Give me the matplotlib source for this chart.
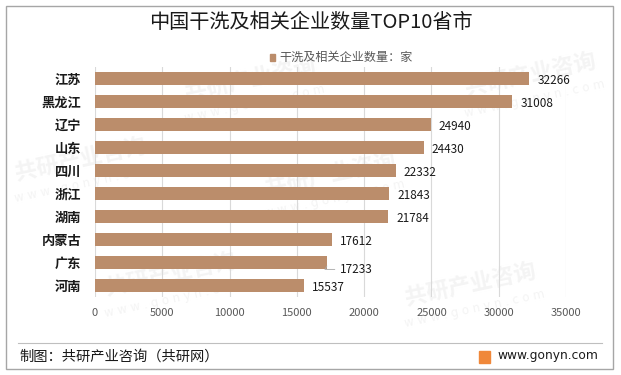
import numpy as np
import matplotlib.pyplot as plt
from matplotlib.patches import Rectangle

plt.rcParams['font.family'] = ['Noto Sans CJK SC', 'DejaVu Sans']

# data
provinces = ['江苏', '黑龙江', '辽宁', '山东', '四川', '浙江', '湖南', '内蒙古', '广东', '河南']
counts = [32266, 31008, 24940, 24430, 22332, 21843, 21784, 17612, 17233, 15537]
xticks = [0, 5000, 10000, 15000, 20000, 25000, 30000, 35000]

title = '中国干洗及相关企业数量TOP10省市'
legend_label = '干洗及相关企业数量：家'
source = '制图：共研产业咨询（共研网）'
site = 'www.gonyn.com'
wm_text = '共研产业咨询'
wm_site = 'w w w . g o n y n . c o m'

bar_color = '#BB8D6B'
W, H = 621, 375

fig = plt.figure(figsize=(W / 100, H / 100), dpi=100)

# faint watermarks, behind the axes
for wx, wy in [(250, 80), (330, 175), (170, 275), (470, 285), (80, 160), (530, 75)]:
    fig.text(wx / W, 1 - wy / H, wm_text, fontsize=16, fontweight='bold', color='#f4f4f4',
             rotation=12, ha='center', va='center', zorder=0.2)
    fig.text((wx + 5) / W, 1 - (wy + 24) / H, wm_site, fontsize=8.5, color='#f4f4f4',
             rotation=12, ha='center', va='center', zorder=0.2, family='DejaVu Sans')

ax = fig.add_axes([95 / W, 1 - 297 / H, (566 - 95) / W, (297 - 67) / H])
ax.set_zorder(1)
ax.patch.set_alpha(0)

y = np.arange(len(provinces))
ax.barh(y, counts, height=0.58, color=bar_color, zorder=3)
ax.set_ylim(len(provinces) - 0.5, -0.5)
ax.set_xlim(0, 35000)
ax.set_xticks(xticks)
ax.set_xticklabels([str(t) for t in xticks], fontsize=8, color='#595959')
ax.tick_params(axis='both', length=0)
ax.set_yticks(y)
ax.set_yticklabels(provinces, fontsize=9.5, fontweight='bold', color='#1a1a1a')
ax.tick_params(axis='x', pad=8)
ax.tick_params(axis='y', pad=10)
ax.grid(axis='x', color='#d9d9d9', linewidth=0.8, zorder=0)
for s in ax.spines.values():
    s.set_visible(False)

# value labels
for i, v in enumerate(counts):
    if provinces[i] == '广东':
        ax.annotate(str(v), xy=(v + 100, i + 0.05), xytext=(v + 1000, i + 0.3),
                    fontsize=8.5, color='#1a1a1a', va='center', ha='left',
                    arrowprops=dict(arrowstyle='-', color='#a6a6a6', lw=0.6,
                                    connectionstyle='angle,angleA=0,angleB=60,rad=0'))
    else:
        ax.text(v + 600, i + 0.08, str(v), fontsize=8.5, color='#1a1a1a', va='center', ha='left')

# title and legend
fig.text(311 / W, 1 - 23 / H, title, fontsize=14.5, ha='center', va='center', color='#1a1a1a')
fig.patches.append(Rectangle((270 / W, 1 - 61 / H), 5 / W, 7 / H, transform=fig.transFigure,
                             color=bar_color))
fig.text(279 / W, 1 - 57 / H, legend_label, fontsize=8.7, ha='left', va='center', color='#595959')

# outer border and footer
fig.patches.append(Rectangle((6 / W, 6 / H), 607 / W, 363 / H, transform=fig.transFigure,
                             fill=False, edgecolor='#a6a6a6', linewidth=1))
fig.add_artist(plt.Line2D([18 / W, 602 / W], [1 - 343 / H, 1 - 343 / H],
                          transform=fig.transFigure, color='#bfbfbf', linewidth=0.8))
fig.text(19 / W, 1 - 357 / H, source, fontsize=10.3, ha='left', va='center', color='#1a1a1a')
fig.patches.append(Rectangle((479 / W, 1 - 363 / H), 11 / W, 12 / H, transform=fig.transFigure,
                             color='#F0883A'))
fig.text(497 / W, 1 - 356 / H, site, fontsize=8.8, ha='left', va='center', color='#1a1a1a',
         family='DejaVu Sans')

fig.savefig('out.png', dpi=100)
